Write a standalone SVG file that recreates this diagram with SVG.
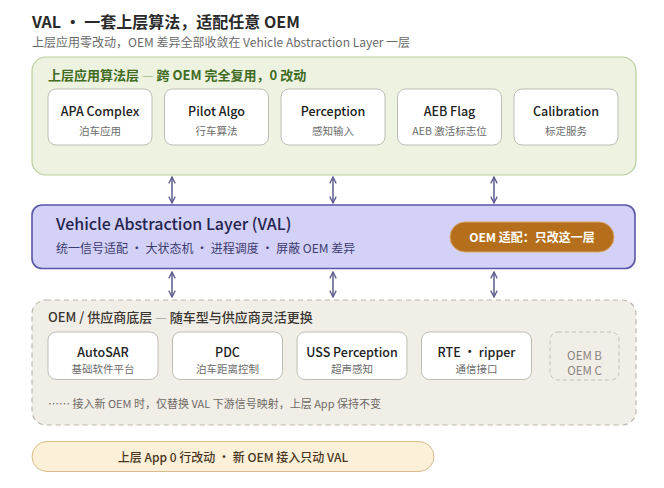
<svg xmlns="http://www.w3.org/2000/svg" width="664" height="488" viewBox="0 0 664 488">
<defs>
<marker id="ah" viewBox="0 0 10 10" refX="9" refY="5" markerWidth="8" markerHeight="8" orient="auto-start-reverse" markerUnits="userSpaceOnUse">
<path d="M1,1 L9,5 L1,9" fill="none" stroke="#5b5a8c" stroke-width="1.6"/>
</marker>
</defs>
<style>
text{font-family:"Noto Sans CJK SC","Noto Sans",sans-serif}
.title{font-size:16px;font-weight:600;fill:#2a2a2a}
.subtitle{font-size:12px;fill:#6a6a6a}
.box{fill:#ffffff;stroke:#bdbdb5;stroke-width:1}
.bt{font-size:12.5px;font-weight:500;fill:#222;text-anchor:middle}
.bs{font-size:10.5px;fill:#6b6b6b;text-anchor:middle}
.conn{stroke:#5b5a8c;stroke-width:1.5;fill:none;marker-start:url(#ah);marker-end:url(#ah)}
</style>
<rect width="664" height="488" fill="#ffffff"/>
<text class="title" x="32" y="28">VAL · 一套上层算法，适配任意 OEM</text>
<text class="subtitle" x="32" y="47">上层应用零改动，OEM 差异全部收敛在 Vehicle Abstraction Layer 一层</text>

<g id="app-layer">
<rect x="32" y="57" width="604" height="118" rx="14" fill="#eef3e1" stroke="#b9cf9a" stroke-width="1.2"/>
<text x="48" y="79.5" font-size="13" font-weight="600" fill="#3f6b22">上层应用算法层 <tspan fill="#a4c083" font-weight="400">—</tspan> 跨 OEM 完全复用，0 改动</text>
</g>
<g id="apa"><rect class="box" x="48" y="89" width="104" height="56" rx="8"/><text class="bt" x="100" y="116">APA Complex</text><text class="bs" x="100" y="134.5">泊车应用</text></g>
<g id="pilot"><rect class="box" x="164.5" y="89" width="104" height="56" rx="8"/><text class="bt" x="216.5" y="116">Pilot Algo</text><text class="bs" x="216.5" y="134.5">行车算法</text></g>
<g id="perception"><rect class="box" x="281" y="89" width="104" height="56" rx="8"/><text class="bt" x="333" y="116">Perception</text><text class="bs" x="333" y="134.5">感知输入</text></g>
<g id="aeb"><rect class="box" x="397.5" y="89" width="104" height="56" rx="8"/><text class="bt" x="449.5" y="116">AEB Flag</text><text class="bs" x="449.5" y="134.5">AEB 激活标志位</text></g>
<g id="calibration"><rect class="box" x="514" y="89" width="104" height="56" rx="8"/><text class="bt" x="566" y="116">Calibration</text><text class="bs" x="566" y="134.5">标定服务</text></g>

<g id="val">
<rect x="32" y="205" width="603" height="63.5" rx="10" fill="#d3d1f7" stroke="#5a57a6" stroke-width="1.6"/>
<text x="56" y="229.5" font-size="16" font-weight="500" fill="#25244f">Vehicle Abstraction Layer (VAL)</text>
<text x="56" y="252.5" font-size="12" fill="#3d3c70">统一信号适配 · 大状态机 · 进程调度 · 屏蔽 OEM 差异</text>
</g>
<g id="val-badge">
<rect x="450" y="222" width="164" height="30" rx="15" fill="#b56f1c" stroke="#d9a766" stroke-width="1"/>
<text x="532" y="241.5" font-size="12" font-weight="600" fill="#ffffff" text-anchor="middle">OEM 适配：只改这一层</text>
</g>

<g id="oem-layer">
<rect x="32" y="300" width="604" height="125" rx="14" fill="#f1eee8" stroke="#bdb7ae" stroke-width="1.2" stroke-dasharray="5 4"/>
<text x="48" y="322" font-size="13" font-weight="500" fill="#3a3530">OEM / 供应商底层 <tspan fill="#a8a29a" font-weight="400">—</tspan> 随车型与供应商灵活更换</text>
<text x="48" y="407.5" font-size="11" fill="#6f6a64">…… 接入新 OEM 时，仅替换 VAL 下游信号映射，上层 App 保持不变</text>
</g>
<g id="autosar"><rect class="box" x="48" y="332" width="110" height="47.5" rx="8"/><text class="bt" x="103" y="357">AutoSAR</text><text class="bs" x="103" y="373">基础软件平台</text></g>
<g id="pdc"><rect class="box" x="172.5" y="332" width="110" height="47.5" rx="8"/><text class="bt" x="227.5" y="357">PDC</text><text class="bs" x="227.5" y="373">泊车距离控制</text></g>
<g id="uss"><rect class="box" x="297" y="332" width="110" height="47.5" rx="8"/><text class="bt" x="352" y="357">USS Perception</text><text class="bs" x="352" y="373">超声感知</text></g>
<g id="rte"><rect class="box" x="421.5" y="332" width="110" height="47.5" rx="8"/><text class="bt" x="476.5" y="357">RTE · ripper</text><text class="bs" x="476.5" y="373">通信接口</text></g>
<g id="oem-others">
<rect x="550" y="332" width="69" height="48" rx="8" fill="none" stroke="#c4beb5" stroke-width="1" stroke-dasharray="4 3"/>
<text x="584.5" y="360" font-size="11.5" fill="#8a857e" text-anchor="middle">OEM B</text>
<text x="584.5" y="374.5" font-size="11.5" fill="#8a857e" text-anchor="middle">OEM C</text>
</g>

<g id="summary">
<rect x="32" y="441.5" width="402" height="30" rx="15" fill="#fcf0d9" stroke="#d8bb8c" stroke-width="1"/>
<text x="233" y="462" font-size="12" font-weight="500" fill="#4a3520" text-anchor="middle">上层 App 0 行改动 · 新 OEM 接入只动 VAL</text>
</g>

<g id="connectors">
<line class="conn" x1="172" y1="177" x2="172" y2="203"/>
<line class="conn" x1="333" y1="177" x2="333" y2="203"/>
<line class="conn" x1="494" y1="177" x2="494" y2="203"/>
<line class="conn" x1="172" y1="272" x2="172" y2="297"/>
<line class="conn" x1="333" y1="272" x2="333" y2="297"/>
<line class="conn" x1="494" y1="272" x2="494" y2="297"/>
</g>
</svg>
